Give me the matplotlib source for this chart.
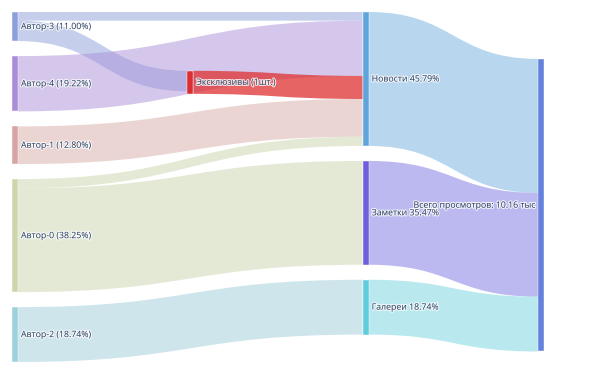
import matplotlib.pyplot as plt
from matplotlib.path import Path
from matplotlib.patches import PathPatch, Rectangle
import matplotlib.patheffects as pe

# ---------------------------------------------------------------- data
labels = ['Автор-3 (11.00%)', 'Автор-4 (19.22%)', 'Автор-1 (12.80%)', 'Автор-0 (38.25%)',
          'Автор-2 (18.74%)', 'Эксклюзивы (1шт.)', 'Новости 45.79%', 'Заметки 35.47%',
          'Галереи 18.74%', 'Всего просмотров: 10.16 тыс']

# links (views)
source = [0, 0, 1, 5, 2, 3, 3, 4, 6, 7, 8]
target = [6, 5, 6, 6, 6, 6, 7, 8, 9, 9, 9]
value = [300, 710, 1920, 800, 1310, 320, 3604, 1904, 4650, 3604, 1904]

# ---------------------------------------------------------------- style / layout
node_colors = ['#8ca0dc', '#aa8cd7', '#d7a5a5', '#cdd7ab', '#9dd2dc',
               '#dc2d32', '#5fa5dc', '#6e5fdc', '#5fcddc', '#6482dc']
link_colors = [('#8da1db', 0.5), ('#8da1db', 0.5), ('#ab91d9', 0.5), ('#de3030', 0.75),
               ('#d7ada9', 0.5), ('#c9d5ad', 0.5), ('#c9d5ad', 0.5), ('#9dcdd9', 0.5),
               ('#73b1e1', 0.5), ('#7975e1', 0.5), ('#75d5e1', 0.5)]
node_col = [0, 0, 0, 0, 0, 1, 2, 2, 2, 3]
centre_hint = {5: 0.201, 9: 0.552}   # vertical position (fraction) for lone nodes

left, right, top, bottom = 12, 544, 12, 362
node_w = 6
pad = 15
ncols = 4

plt.rcParams['font.family'] = ['Open Sans', 'DejaVu Sans']

# ---------------------------------------------------------------- layout
n = len(labels)
inflow = [0] * n
outflow = [0] * n
for s, t, v in zip(source, target, value):
    outflow[s] += v
    inflow[t] += v
size = [max(a, b) for a, b in zip(inflow, outflow)]

cols = [[i for i in range(n) if node_col[i] == c] for c in range(ncols)]
H = bottom - top
ky = min((H - (len(c) - 1) * pad) / sum(size[i] for i in c) for c in cols)

x0 = [0.0] * n
y0 = [0.0] * n
y1 = [0.0] * n
step = (right - left - node_w) / (ncols - 1)
for c, members in enumerate(cols):
    y = top
    for i in members:
        x0[i] = left + c * step
        h = size[i] * ky
        if i in centre_hint:
            y = top + centre_hint[i] * H - h / 2
        y0[i] = y
        y1[i] = y + h
        y = y + h + pad

# link offsets at both ends
links = list(range(len(value)))
src_off = {}
tgt_off = {}
for i in range(n):
    out_links = sorted([k for k in links if source[k] == i], key=lambda k: y0[target[k]])
    y = y0[i]
    for k in out_links:
        src_off[k] = y
        y += value[k] * ky
    in_links = sorted([k for k in links if target[k] == i], key=lambda k: y0[source[k]])
    y = y0[i]
    for k in in_links:
        tgt_off[k] = y
        y += value[k] * ky

# ---------------------------------------------------------------- draw
fig = plt.figure(figsize=(6.13, 3.75), dpi=100)
ax = fig.add_axes([0, 0, 1, 1])
ax.set_xlim(0, 613)
ax.set_ylim(375, 0)
ax.axis('off')

for k in links:
    s, t = source[k], target[k]
    xa = x0[s] + node_w
    xb = x0[t]
    xm = (xa + xb) / 2
    w = value[k] * ky
    sa, sb = src_off[k], src_off[k] + w
    ta, tb = tgt_off[k], tgt_off[k] + w
    verts = [(xa, sa), (xm, sa), (xm, ta), (xb, ta), (xb, tb), (xm, tb), (xm, sb), (xa, sb), (xa, sa)]
    codes = [Path.MOVETO, Path.CURVE4, Path.CURVE4, Path.CURVE4, Path.LINETO,
             Path.CURVE4, Path.CURVE4, Path.CURVE4, Path.CLOSEPOLY]
    col, alpha = link_colors[k]
    ax.add_patch(PathPatch(Path(verts, codes), facecolor=col, alpha=alpha, lw=0))

halo = [pe.withStroke(linewidth=1.6, foreground='white', alpha=0.8)]
fs = 6.3
for i in range(n):
    ax.add_patch(Rectangle((x0[i], y0[i]), node_w, y1[i] - y0[i], facecolor=node_colors[i],
                           edgecolor='white', lw=0.3))
    yc = (y0[i] + y1[i]) / 2
    if node_col[i] == ncols - 1:
        ax.text(x0[i] - 2, yc, labels[i], ha='right', va='center', fontsize=fs,
                color='#2a3f5f', path_effects=halo)
    else:
        ax.text(x0[i] + node_w + 3, yc, labels[i], ha='left', va='center', fontsize=fs,
                color='#2a3f5f', path_effects=halo)

fig.savefig('out.png', dpi=100)
